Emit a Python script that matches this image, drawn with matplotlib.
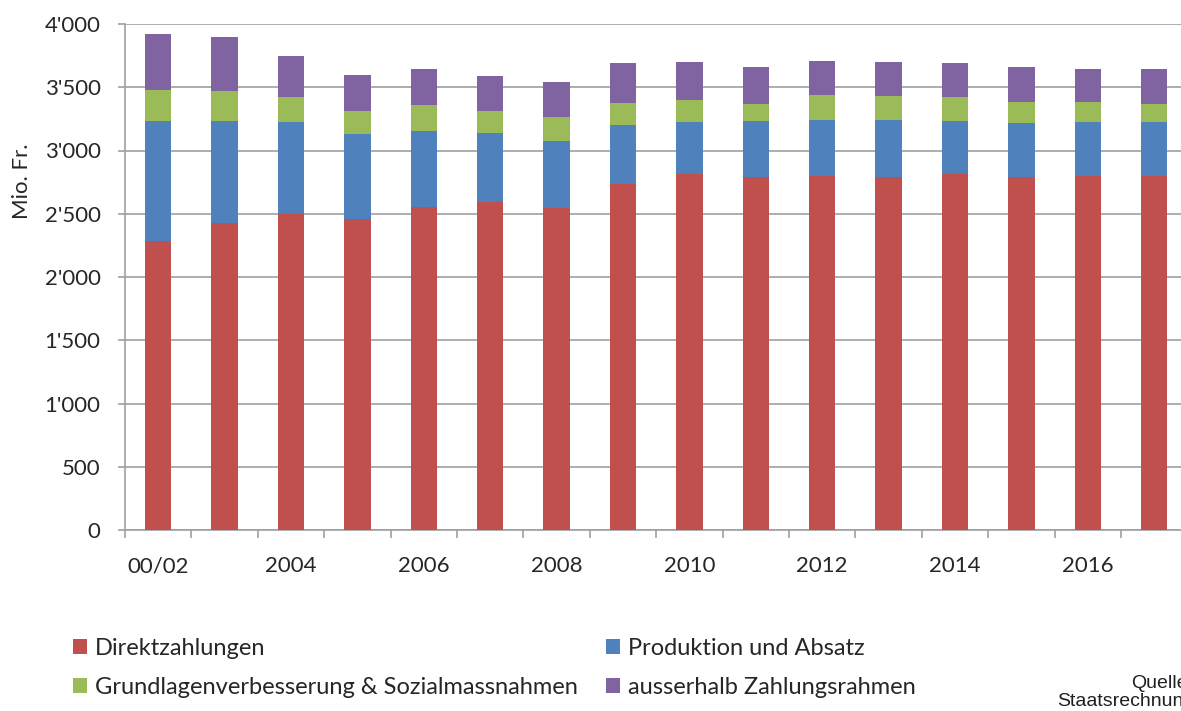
import numpy as np
import matplotlib
matplotlib.use('Agg')
import matplotlib.pyplot as plt
from matplotlib.ticker import FuncFormatter, MultipleLocator, FixedLocator
from matplotlib.patches import Patch

# Bundesausgaben Landwirtschaft, Mio. Fr.
jahre = ['00/02', '2003', '2004', '2005', '2006', '2007', '2008', '2009',
         '2010', '2011', '2012', '2013', '2014', '2015', '2016', '2017']
direktzahlungen = [2287, 2429, 2496, 2461, 2551, 2593, 2543, 2738,
                   2812, 2793, 2801, 2793, 2812, 2793, 2801, 2801]
produktion_absatz = [944, 802, 727, 672, 606, 548, 532, 466,
                     416, 443, 443, 451, 424, 427, 427, 427]
grundlagen = [250, 239, 202, 179, 200, 171, 187, 171,
              171, 129, 195, 184, 187, 163, 155, 137]
ausserhalb = [438, 430, 322, 287, 285, 280, 282, 314,
              298, 297, 269, 269, 266, 279, 264, 282]

serien = [
    ('Direktzahlungen', direktzahlungen, '#C0504D'),
    ('Produktion und Absatz', produktion_absatz, '#4F81BD'),
    ('Grundlagenverbesserung & Sozialmassnahmen', grundlagen, '#9BBB59'),
    ('ausserhalb Zahlungsrahmen', ausserhalb, '#8064A2'),
]

textfarbe = '#262626'
gitter = '#A0A0A0'
schrift = ['Lato', 'DejaVu Sans']

W, H = 1181, 711
fig = plt.figure(figsize=(W / 100, H / 100), dpi=100)
ax = fig.add_axes([125 / W, (H - 530) / H, 1062.4 / W, 506 / H])

x = np.arange(len(jahre))
unten = np.zeros(len(jahre))
handles = []
for name, werte, farbe in serien:
    ax.bar(x, werte, width=0.4, bottom=unten, color=farbe, zorder=3)
    unten += np.array(werte)
    handles.append(Patch(facecolor=farbe, label=name))

ax.set_xlim(-0.5, len(jahre) - 0.5)
ax.set_ylim(0, 4000)
ax.yaxis.set_major_locator(MultipleLocator(500))
ax.yaxis.set_major_formatter(FuncFormatter(lambda v, p: f'{int(v):,}'.replace(',', "'")))
ax.grid(axis='y', color=gitter, linewidth=1.2, zorder=0)

# Beschriftung nur jedes zweite Jahr, Striche zwischen den Balken
ax.set_xticks(x[::2])
ax.set_xticklabels(jahre[::2])
ax.xaxis.set_minor_locator(FixedLocator(np.arange(-0.5, len(jahre), 1)))
ax.tick_params(axis='x', which='major', length=0, pad=19)
ax.tick_params(axis='x', which='minor', length=6, width=1.2, color=gitter)
ax.tick_params(axis='y', length=5, width=1.2, color=gitter, pad=12.5)
for lbl in ax.get_xticklabels() + ax.get_yticklabels():
    lbl.set_fontfamily(schrift)
    lbl.set_fontsize(16)
    lbl.set_color(textfarbe)

for s in ['top', 'right']:
    ax.spines[s].set_visible(False)
ax.spines['left'].set_color(gitter)
ax.spines['bottom'].set_color(gitter)
ax.spines['left'].set_linewidth(1.2)
ax.spines['bottom'].set_linewidth(1.2)

fig.text(22 / W, 1 - 181 / H, 'Mio. Fr.', rotation=90, ha='center', va='center',
         fontsize=16, family=schrift, color=textfarbe)

# Legende in zwei Spalten, jede als eigene Legende platziert
leg_opts = dict(loc='upper left', frameon=False, borderpad=0, borderaxespad=0,
                prop={'family': schrift, 'size': 17},
                handlelength=0.6, handleheight=0.6, handletextpad=0.33,
                labelspacing=0.75, labelcolor=textfarbe)
spalte1 = [handles[0], handles[2]]
spalte2 = [handles[1], handles[3]]
fig.legend(handles=spalte1, labels=[h.get_label() for h in spalte1],
           bbox_to_anchor=(73 / W, 1 - 638 / H), **leg_opts)
fig.legend(handles=spalte2, labels=[h.get_label() for h in spalte2],
           bbox_to_anchor=(606 / W, 1 - 638 / H), **leg_opts)

fig.text(1131 / W, 1 - 683 / H, 'Quelle:', ha='left', va='center',
         fontsize=14, family='Liberation Sans', color='#202020')
fig.text(1057 / W, 1 - 702 / H, 'Staatsrechnung', ha='left', va='center',
         fontsize=14, family='Liberation Sans', color='#202020')

fig.savefig('out.png', dpi=100)
